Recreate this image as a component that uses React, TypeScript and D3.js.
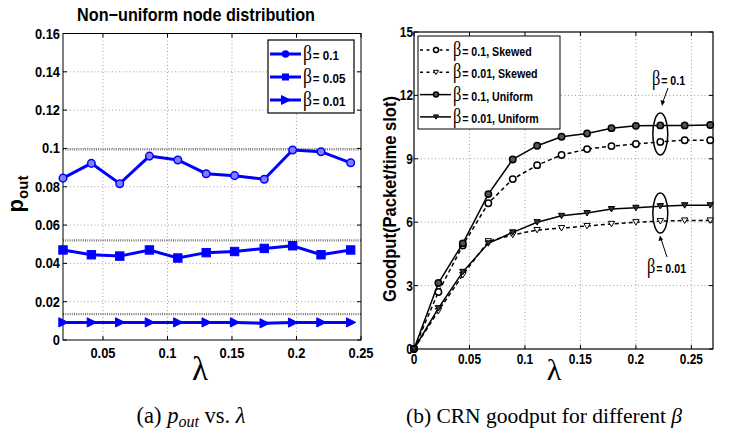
import React from 'react'
import * as d3 from 'd3'

// left panel: p_out vs lambda
const lambdaA = [0.019, 0.041, 0.063, 0.086, 0.108, 0.130, 0.152, 0.175, 0.197, 0.219, 0.242]
const pBeta01 = [0.0845, 0.0922, 0.0816, 0.096, 0.094, 0.0868, 0.0858, 0.0839, 0.0992, 0.0983, 0.0925]
const pBeta005 = [0.047, 0.0445, 0.0438, 0.047, 0.0428, 0.0456, 0.0462, 0.0478, 0.0492, 0.0445, 0.047]
const pBeta001 = [0.0092, 0.0092, 0.0092, 0.0092, 0.0092, 0.0092, 0.0092, 0.0087, 0.0091, 0.0092, 0.0092]
const yTicksA = [0, 0.02, 0.04, 0.06, 0.08, 0.1, 0.12, 0.14, 0.16]
const xTicksA = [0.05, 0.1, 0.15, 0.2, 0.25]
const refLinesA = [0.0995, 0.052, 0.0135]
const legendA = ['0.1', '0.05', '0.01']

// right panel: goodput vs lambda
const lambdaB = [0, 0.022, 0.044, 0.067, 0.089, 0.111, 0.133, 0.156, 0.178, 0.2, 0.222, 0.244, 0.267]
const skewed01 = [0, 2.7, 4.9, 6.9, 8.04, 8.7, 9.18, 9.46, 9.6, 9.7, 9.8, 9.88, 9.88]
const skewed001 = [0, 1.8, 3.5, 5.1, 5.4, 5.63, 5.72, 5.82, 5.92, 6.0, 6.05, 6.08, 6.08]
const uniform01 = [0, 3.12, 5.0, 7.33, 8.97, 9.62, 10.04, 10.2, 10.45, 10.56, 10.58, 10.58, 10.6]
const uniform001 = [0, 1.93, 3.65, 5.0, 5.52, 6.0, 6.3, 6.43, 6.62, 6.68, 6.76, 6.8, 6.8]
const yTicksB = [0, 3, 6, 9, 12, 15]
const xTicksB = [0, 0.05, 0.1, 0.15, 0.2, 0.25]
const legendB = ['0.1, Skewed', '0.01, Skewed', '0.1, Uniform', '0.01, Uniform']

const sans = 'Liberation Sans, Arial, Helvetica, sans-serif'
const serif = 'Liberation Serif, Times New Roman, serif'
const blue = '#0000ff'

function Marker({ kind, x, y, fill, stroke, r }: any) {
  if (kind === 'circle') return <circle cx={x} cy={y} r={r} fill={fill} stroke={stroke} strokeWidth={1.5} />
  if (kind === 'square') return <rect x={x - r} y={y - r} width={2 * r} height={2 * r} fill={fill} stroke={stroke} strokeWidth={1} />
  if (kind === 'right') return <path d={`M${x - r},${y - r * 1.1}L${x + r * 1.2},${y}L${x - r},${y + r * 1.1}Z`} fill={fill} stroke={stroke} strokeWidth={1} />
  // down triangle
  return <path d={`M${x - r},${y - r * 0.8}L${x + r},${y - r * 0.8}L${x},${y + r * 0.9}Z`} fill={fill} stroke={stroke} strokeWidth={1} />
}

// bold condensed-looking label with a tall thin beta
function Beta({ x, y, text, size = 13, sx = 0.88 }: any) {
  return (
    <text transform={`translate(${x},${y}) scale(${sx},1)`} fontFamily={sans} fontWeight="bold" fontSize={size}>
      <tspan fontFamily={serif} fontWeight="normal" fontSize={size + 7}>β</tspan>
      <tspan dx={1}>{'= ' + text}</tspan>
    </text>
  )
}

function PanelA() {
  const m = { l: 63, r: 361, t: 33.5, b: 340 }
  const x = d3.scaleLinear().domain([0.019, 0.25]).range([m.l, m.r])
  const y = d3.scaleLinear().domain([0, 0.16]).range([m.b, m.t])
  const line = d3.line<number>().x((d, i) => x(lambdaA[i])).y(d => y(d))
  const series = [
    { v: pBeta01, kind: 'circle' },
    { v: pBeta005, kind: 'square' },
    { v: pBeta001, kind: 'right' },
  ]
  return (
    <g>
      <text transform="translate(196,21) scale(0.9,1)" textAnchor="middle" fontFamily={sans} fontWeight="bold" fontSize={18}>Non−uniform node distribution</text>
      {yTicksA.slice(1, -1).map(t => (
        <line key={'gy' + t} x1={m.l} x2={m.r} y1={y(t)} y2={y(t)} stroke="#888" strokeWidth={0.8} strokeDasharray="1,2.5" />
      ))}
      {xTicksA.slice(0, -1).map(t => (
        <line key={'gx' + t} x1={x(t)} x2={x(t)} y1={m.t} y2={m.b} stroke="#888" strokeWidth={0.8} strokeDasharray="1,2.5" />
      ))}
      {refLinesA.map(t => (
        <line key={'r' + t} x1={m.l} x2={m.r} y1={y(t)} y2={y(t)} stroke="#777" strokeWidth={2.2} strokeDasharray="1,1.2" />
      ))}
      <rect x={m.l} y={m.t} width={m.r - m.l} height={m.b - m.t} fill="none" stroke="#000" strokeWidth={1} />
      {yTicksA.map(t => (
        <g key={'ty' + t}>
          <line x1={m.l} x2={m.l + 4} y1={y(t)} y2={y(t)} stroke="#000" />
          <line x1={m.r} x2={m.r - 4} y1={y(t)} y2={y(t)} stroke="#000" />
          <text transform={`translate(${m.l - 3},${y(t) + 5}) scale(0.92,1)`} textAnchor="end" fontFamily={sans} fontWeight="bold" fontSize={14}>{t === 0 ? '0' : String(t)}</text>
        </g>
      ))}
      {xTicksA.map(t => (
        <g key={'tx' + t}>
          <line x1={x(t)} x2={x(t)} y1={m.b} y2={m.b - 4} stroke="#000" />
          <line x1={x(t)} x2={x(t)} y1={m.t} y2={m.t + 4} stroke="#000" />
          <text transform={`translate(${x(t)},${m.b + 18}) scale(0.92,1)`} textAnchor="middle" fontFamily={sans} fontWeight="bold" fontSize={14}>{String(t)}</text>
        </g>
      ))}
      {series.map((s, si) => (
        <g key={'s' + si}>
          <path d={line(s.v) || ''} fill="none" stroke={blue} strokeWidth={3} />
          {s.v.map((v, i) => (
            <Marker key={i} kind={s.kind} x={x(lambdaA[i])} y={y(v)} r={s.kind === 'circle' ? 3.8 : 4.2} fill={s.kind === 'circle' ? '#8080ff' : blue} stroke={blue} />
          ))}
        </g>
      ))}
      <rect x={268} y={40} width={86} height={73} fill="#fff" stroke="#000" strokeWidth={1.2} />
      {legendA.map((l, i) => {
        const ly = 54 + i * 23
        const kind = series[i].kind
        return (
          <g key={'la' + i}>
            <line x1={270} x2={301} y1={ly} y2={ly} stroke={blue} strokeWidth={3} />
            <Marker kind={kind} x={285.5} y={ly} r={kind === 'right' ? 4 : 3} fill={blue} stroke={blue} />
            <Beta x={303} y={ly + 6} text={l} size={13.5} sx={0.86} />
          </g>
        )
      })}
      <text transform="translate(23,194) rotate(-90)" textAnchor="middle" fontFamily={sans} fontWeight="bold" fontSize={22}>
        <tspan>p</tspan>
        <tspan fontSize={15} dy={5}>out</tspan>
      </text>
      <text x={200} y={380} textAnchor="middle" fontFamily={serif} fontSize={33}>λ</text>
      <text x={191} y={423} textAnchor="middle" fontFamily={serif} fontSize={22.5}>
        (a) <tspan fontStyle="italic">p</tspan><tspan fontStyle="italic" fontSize={16} dy={4}>out</tspan><tspan dy={-4}> vs. </tspan><tspan fontStyle="italic">λ</tspan>
      </text>
    </g>
  )
}

function PanelB() {
  const m = { l: 414, r: 713, t: 32, b: 349 }
  const x = d3.scaleLinear().domain([0, 0.2695]).range([m.l, m.r])
  const y = d3.scaleLinear().domain([0, 15]).range([m.b, m.t])
  const line = d3.line<number>().x((d, i) => x(lambdaB[i])).y(d => y(d))
  const series = [
    { v: skewed01, kind: 'circle', dash: '4,3', fill: '#fff' },
    { v: skewed001, kind: 'down', dash: '4,3', fill: '#fff' },
    { v: uniform01, kind: 'circle', dash: null, fill: '#555' },
    { v: uniform001, kind: 'down', dash: null, fill: '#333' },
  ]
  return (
    <g>
      {yTicksB.slice(1, -1).map(t => (
        <line key={'gy' + t} x1={m.l} x2={m.r} y1={y(t)} y2={y(t)} stroke="#888" strokeWidth={0.8} strokeDasharray="1,2.5" />
      ))}
      {xTicksB.slice(1).map(t => (
        <line key={'gx' + t} x1={x(t)} x2={x(t)} y1={m.t} y2={m.b} stroke="#888" strokeWidth={0.8} strokeDasharray="1,2.5" />
      ))}
      <rect x={m.l} y={m.t} width={m.r - m.l} height={m.b - m.t} fill="none" stroke="#000" strokeWidth={1.2} />
      {yTicksB.map(t => (
        <g key={'ty' + t}>
          <line x1={m.l} x2={m.l + 4} y1={y(t)} y2={y(t)} stroke="#000" />
          <line x1={m.r} x2={m.r - 4} y1={y(t)} y2={y(t)} stroke="#000" />
          <text transform={`translate(${m.l - 1},${y(t) + 5}) scale(0.85,1)`} textAnchor="end" fontFamily={sans} fontWeight="bold" fontSize={14}>{String(t)}</text>
        </g>
      ))}
      {xTicksB.map(t => (
        <g key={'tx' + t}>
          <line x1={x(t)} x2={x(t)} y1={m.b} y2={m.b - 4} stroke="#000" />
          <line x1={x(t)} x2={x(t)} y1={m.t} y2={m.t + 4} stroke="#000" />
          <text transform={`translate(${x(t)},${m.b + 15}) scale(0.85,1)`} textAnchor="middle" fontFamily={sans} fontWeight="bold" fontSize={14}>{String(t)}</text>
        </g>
      ))}
      {series.map((s, si) => (
        <g key={'s' + si}>
          <path d={line(s.v) || ''} fill="none" stroke="#000" strokeWidth={1.5} strokeDasharray={s.dash || undefined} />
          {s.v.map((v, i) => (
            <Marker key={i} kind={s.kind} x={x(lambdaB[i])} y={y(v)} r={3.2} fill={s.fill} stroke="#000" />
          ))}
        </g>
      ))}
      <rect x={418} y={36} width={142} height={93} fill="#fff" stroke="#000" strokeWidth={1} />
      {legendB.map((l, i) => {
        const ly = 50 + i * 22.3
        const s = series[i]
        return (
          <g key={'lb' + i}>
            <line x1={420} x2={451} y1={ly} y2={ly} stroke="#000" strokeWidth={1.5} strokeDasharray={s.dash ? '3,3.5' : undefined} />
            <Marker kind={s.kind} x={436} y={ly} r={2.5} fill={s.fill} stroke="#000" />
            <Beta x={453} y={ly + 6} text={l} size={13} sx={0.82} />
          </g>
        )
      })}
      <ellipse cx={x(lambdaB[10])} cy={134} rx={7.5} ry={21} fill="none" stroke="#000" strokeWidth={1.5} />
      <ellipse cx={x(lambdaB[10])} cy={213} rx={7.5} ry={20} fill="none" stroke="#000" strokeWidth={1.5} />
      <Beta x={652} y={85} text="0.1" size={13} sx={0.82} />
      <Beta x={647} y={273} text="0.01" size={13} sx={0.82} />
      <line x1={668} x2={662.5} y1={88} y2={103} stroke="#000" />
      <path d="M662,106 L660.5,100 L665,101.5Z" fill="#000" />
      <line x1={667} x2={661} y1={257} y2={239} stroke="#000" />
      <path d="M660,235.5 L658.5,241 L663,240Z" fill="#000" />
      <text transform="translate(396,199) rotate(-90) scale(0.92,1)" textAnchor="middle" fontFamily={sans} fontWeight="bold" fontSize={18}>Goodput(Packet/time slot)</text>
      <text x={554} y={380} textAnchor="middle" fontFamily={serif} fontSize={30}>λ</text>
      <text x={544} y={423} textAnchor="middle" fontFamily={serif} fontSize={21.5}>
        (b) CRN goodput for different <tspan fontStyle="italic">β</tspan>
      </text>
    </g>
  )
}

export default function App() {
  return (
    <svg width={735} height={434} style={{ position: 'absolute', left: 0, top: 0, background: '#fff' }}>
      <rect width={735} height={434} fill="#fff" />
      <PanelA />
      <PanelB />
    </svg>
  )
}
